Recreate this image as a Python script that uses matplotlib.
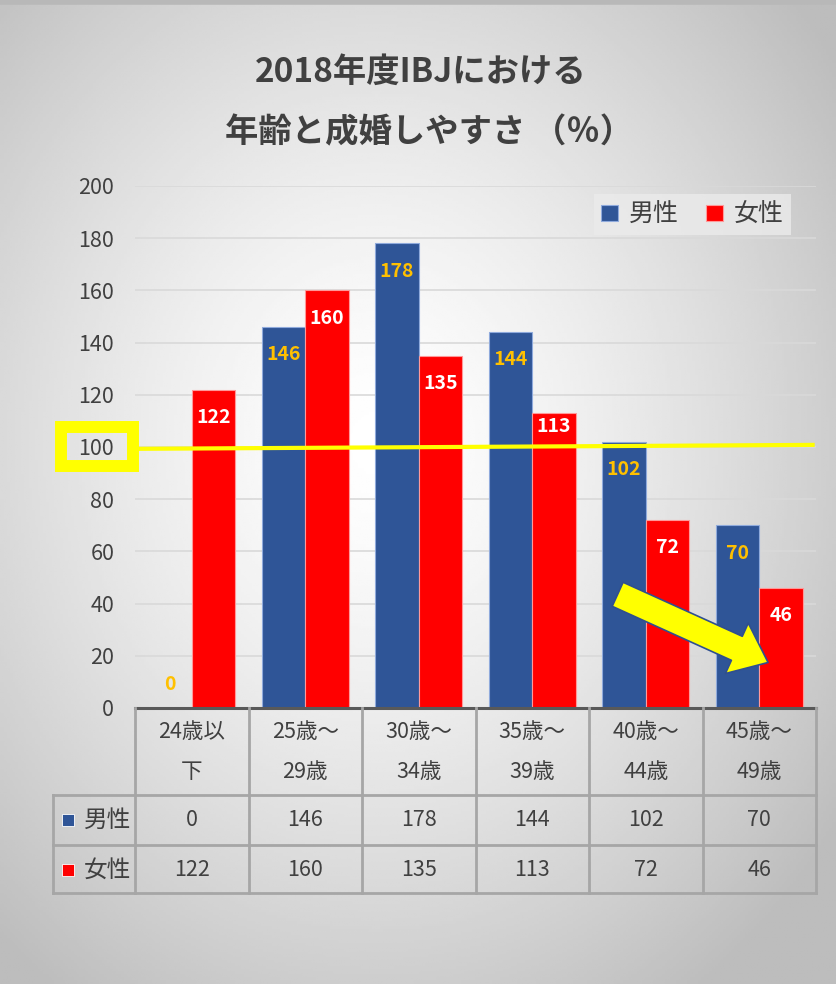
import numpy as np
import matplotlib
matplotlib.use("Agg")
import matplotlib.pyplot as plt
from matplotlib.patches import Rectangle

plt.rcParams['font.family'] = ['Noto Sans CJK JP', 'DejaVu Sans']

# data
cat_line1 = ["24歳以", "25歳～", "30歳～", "35歳～", "40歳～", "45歳～"]
cat_line2 = ["下", "29歳", "34歳", "39歳", "44歳", "49歳"]
male = [0, 146, 178, 144, 102, 70]
female = [122, 160, 135, 113, 72, 46]
series_names = ["男性", "女性"]
yticks = [0, 20, 40, 60, 80, 100, 120, 140, 160, 180, 200]
threshold = 100

BLUE = "#2F5597"
RED = "#FF0000"
GOLD = "#FFC000"
TXT = "#404040"
GRID = "#A6A6A6"

fig = plt.figure(figsize=(8.36, 9.84), dpi=100)

# radial gradient background
bg = fig.add_axes([0, 0, 1, 1], zorder=-10)
gx, gy = np.meshgrid(np.linspace(0, 1, 300), np.linspace(0, 1, 350))
r = np.sqrt(((gx - 0.45) / 0.75) ** 2 + ((gy - 0.55) / 0.75) ** 2)
shade = np.clip(1.0 - 0.30 * r ** 1.4, 0.74, 1.0)
bg.imshow(shade, cmap="gray", vmin=0, vmax=1, aspect="auto", extent=[0, 1, 0, 1], origin="lower")
bg.axhline(0.998, color="#b8b8b8", lw=4)
bg.set_xlim(0, 1)
bg.set_ylim(0, 1)
bg.axis("off")

ax = fig.add_axes([0.1615, 0.2805, 0.8146, 0.5305])
ax.set_facecolor("none")

x = np.arange(len(male))
w = 0.385
ax.bar(x - w / 2, male, w, color=BLUE, edgecolor="#8FAADC", linewidth=0.8, label=series_names[0], zorder=3)
ax.bar(x + w / 2, female, w, color=RED, edgecolor="#FF9999", linewidth=0.8, label=series_names[1], zorder=3)


def label_offset(v):
    if v == 0:
        return 17
    # keep the label clear of the threshold line
    if abs(v - 14 - threshold) < 8:
        return -10
    return -20


for xi, v in zip(x - w / 2, male):
    ax.annotate(str(v), (xi, v), xytext=(0, label_offset(v)), textcoords="offset points",
                ha="center", va="center", color=GOLD, fontsize=14, fontweight="bold", zorder=5)
for xi, v in zip(x + w / 2, female):
    ax.annotate(str(v), (xi, v), xytext=(0, label_offset(v)), textcoords="offset points",
                ha="center", va="center", color="white", fontsize=14, fontweight="bold", zorder=5)

ax.set_xlim(-0.5, len(male) - 0.5)
ax.set_ylim(0, 200)
ax.set_yticks(yticks)
ax.tick_params(axis="y", length=0, pad=15, labelsize=15.5, labelcolor=TXT)
ax.set_xticks([])
ax.grid(axis="y", color="#D9D9D9", lw=1.2, zorder=0)
for s in ax.spines.values():
    s.set_visible(False)

# threshold line and highlight
ax.plot([-0.47, 5.47], [threshold - 0.7, threshold + 0.8], color="#FFFF00", lw=3, zorder=4, clip_on=False)
ax.add_patch(Rectangle((-0.1087, 92.7), 0.1057, 15.0, transform=ax.get_yaxis_transform(),
                       fill=False, edgecolor="#FFFF00", lw=8.6, clip_on=False, zorder=4))

# arrow
ax.annotate("", xy=(5.1, 17.0), xytext=(3.73, 44),
            arrowprops=dict(arrowstyle="simple,head_length=1.3,head_width=2.1,tail_width=1.0",
                            fc="#FFFF00", ec="#2F4F8F", lw=1.2, mutation_scale=19),
            zorder=6)

# legend
leg = ax.legend(loc="upper right", bbox_to_anchor=(0.982, 1.008), ncol=2, fontsize=18,
                frameon=True, fancybox=False, handlelength=0.65, handleheight=0.65,
                handletextpad=0.45, columnspacing=1.1, borderpad=0.3)
leg.get_frame().set_facecolor("#EBEBEB")
leg.get_frame().set_edgecolor("none")
leg.get_frame().set_alpha(0.8)
for t in leg.get_texts():
    t.set_color(TXT)

# data table
tr = ax.get_xaxis_transform()
n = len(male)
y_top, y_hdr, y_m, y_f = 0.0, -0.1667, -0.2625, -0.354
x_lab = -1.222
lkw = dict(transform=tr, clip_on=False, zorder=5)
ax.plot([-0.5, n - 0.5], [y_top, y_top], color="#595959", lw=2.2, **lkw)
for yy in (y_hdr, y_m, y_f):
    ax.plot([x_lab, n - 0.5], [yy, yy], color=GRID, lw=2, **lkw)
for i in range(n + 1):
    ax.plot([i - 0.5, i - 0.5], [y_top, y_f], color=GRID, lw=2, **lkw)
ax.plot([x_lab, x_lab], [y_hdr, y_f], color=GRID, lw=2, **lkw)

tkw = dict(transform=tr, ha="center", va="center", fontsize=15.5, color=TXT, clip_on=False)
for i in range(n):
    ax.text(i, -0.046, cat_line1[i], **tkw)
    ax.text(i, -0.1226, cat_line2[i], **tkw)
    ax.text(i, -0.2146, str(male[i]), **tkw)
    ax.text(i, -0.310, str(female[i]), **tkw)

for yy, name, col in ((-0.2146, series_names[0], BLUE), (-0.310, series_names[1], RED)):
    ax.plot([-1.09], [yy], marker="s", markersize=8.5, color=col, mec="white", mew=0.6, **lkw)
    ax.text(-0.745, yy, name, **dict(tkw, fontsize=17))

# title
fig.text(0.503, 1 - 72 / 984, "2018年度IBJにおける", ha="center", va="center",
         fontsize=24, fontweight="bold", color=TXT)
fig.text(0.513, 1 - 133 / 984, "年齢と成婚しやすさ （％）", ha="center", va="center",
         fontsize=24, fontweight="bold", color=TXT)

fig.savefig("out.png", dpi=100)
